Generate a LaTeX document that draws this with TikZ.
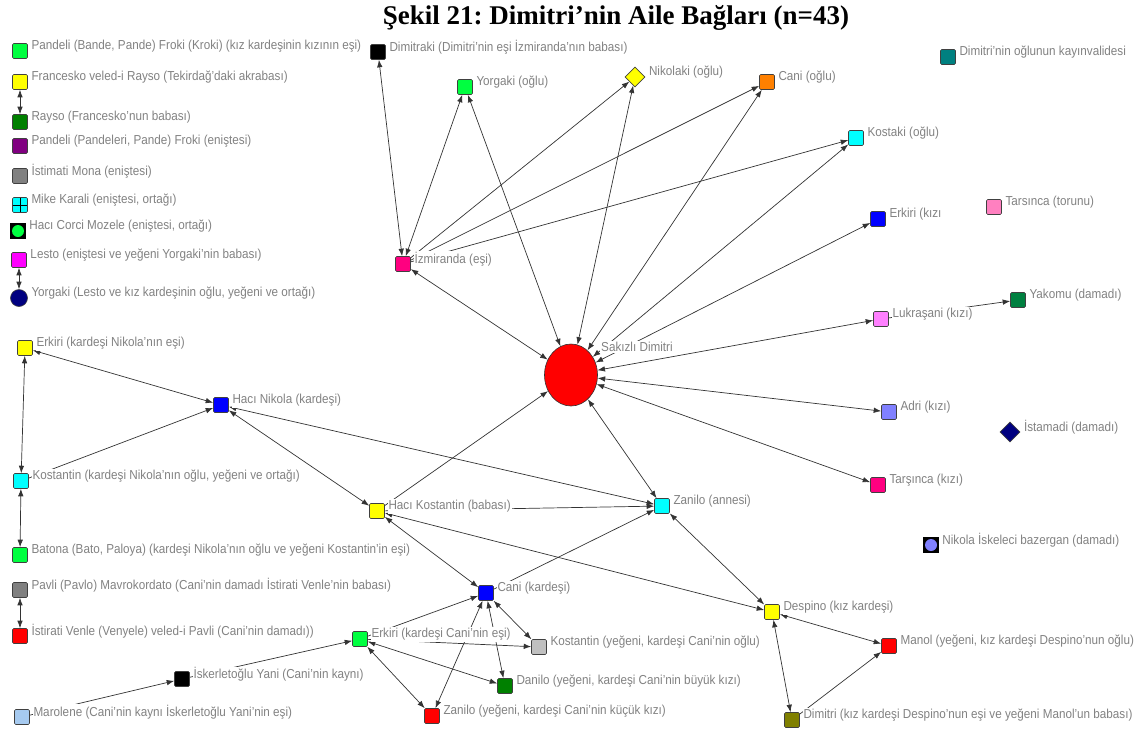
\documentclass[tikz,border=0pt]{standalone}
\usepackage{fontspec}
\setmainfont{Liberation Sans}[FakeStretch=0.9]
\newfontfamily\titlefont{Liberation Serif}
\usetikzlibrary{arrows.meta,shapes.geometric}
\pgfdeclarelayer{bg}
\pgfsetlayers{bg,main}
\frenchspacing
\definecolor{labgray}{RGB}{130,130,130}
\definecolor{cLime}{RGB}{0,255,64}
\definecolor{cYel}{RGB}{255,255,0}
\definecolor{cDGreen}{RGB}{0,128,0}
\definecolor{cPurple}{RGB}{128,0,128}
\definecolor{cGray}{RGB}{128,128,128}
\definecolor{cCyan}{RGB}{0,255,255}
\definecolor{cMag}{RGB}{255,0,255}
\definecolor{cNavy}{RGB}{0,0,128}
\definecolor{cOrange}{RGB}{255,128,0}
\definecolor{cTeal}{RGB}{0,128,128}
\definecolor{cPinkT}{RGB}{255,128,192}
\definecolor{cBlue}{RGB}{0,0,255}
\definecolor{cRose}{RGB}{255,0,128}
\definecolor{cLPink}{RGB}{255,128,255}
\definecolor{cSGreen}{RGB}{0,128,64}
\definecolor{cLBlue}{RGB}{128,128,255}
\definecolor{cLGray}{RGB}{192,192,192}
\definecolor{cMLBlue}{RGB}{166,202,240}
\definecolor{cOlive}{RGB}{128,128,0}
\definecolor{cRed}{RGB}{255,0,0}
\tikzset{
  sq/.style={rectangle, draw=black!75, rounded corners=1.2pt, minimum size=15pt, inner sep=0pt, line width=0.6pt, fill=#1},
  sq/.default=white,
  dia/.style={diamond, draw=black!75, fill=#1, minimum size=20pt, inner sep=0pt, line width=0.6pt},
  dia/.default=white,
  circ/.style={circle, draw=black!75, fill=#1, minimum size=17pt, inner sep=0pt, line width=0.6pt},
  circ/.default=white,
  hc/.style={rectangle, draw=black, fill=black, minimum size=15pt, inner sep=0pt,
    path picture={\fill[#1] (path picture bounding box.center) circle (6pt);}},
  hc/.default=white,
  mk/.style={sq=cCyan, path picture={\draw[black, line width=0.7pt]
    (path picture bounding box.north) -- (path picture bounding box.south)
    (path picture bounding box.west) -- (path picture bounding box.east);}},
  lbl/.style={anchor=west, text=labgray, fill=white, inner sep=1pt, font=\fontsize{13}{15}\selectfont},
  ln/.style={line width=0.7pt, draw=black!80},
  bi/.style={ln, {Latex[length=7.5pt,width=5.5pt]}-{Latex[length=7.5pt,width=5.5pt]}},
  di/.style={ln, -{Latex[length=7.5pt,width=5.5pt]}},
}
\newcommand\pnode[5]{\node[#4] (#1) at (#2,#3) {};
  \node[lbl] (#1l) at ([xshift=2.5pt,yshift=4.5pt]#1.east) {#5};}
\begin{document}
\begin{tikzpicture}[x=1pt,y=-1pt]
\useasboundingbox (0,0) rectangle (1141,729);
\node[font=\titlefont\bfseries\fontsize{27}{30}\selectfont, text=black] (title) at (616,18) {Şekil 21: Dimitri’nin Aile Bağları (n=43)};
% left legend column
\pnode{pbf}{20}{51}{sq=cLime}{Pandeli (Bande, Pande) Froki (Kroki) (kız kardeşinin kızının eşi)}
\pnode{fra}{20}{82}{sq=cYel}{Francesko veled-i Rayso (Tekirdağ’daki akrabası)}
\pnode{ray}{20}{122}{sq=cDGreen}{Rayso (Francesko'nun babası)}
\pnode{ppf}{20}{146}{sq=cPurple}{Pandeli (Pandeleri, Pande) Froki (eniştesi)}
\pnode{ism}{20}{176}{sq=cGray}{İstimati Mona (eniştesi)}
\pnode{mik}{20}{205}{mk}{Mike Karali (eniştesi, ortağı)}
\pnode{hcm}{18}{231}{hc=cLime}{Hacı Corci Mozele (eniştesi, ortağı)}
\pnode{les}{19}{260}{sq=cMag}{Lesto (eniştesi ve yeğeni Yorgaki’nin babası)}
\pnode{yol}{19}{298}{circ=cNavy}{Yorgaki (Lesto ve kız kardeşinin oğlu, yeğeni ve ortağı)}
% top / right
\pnode{dmk}{378}{52}{sq=black}{Dimitraki (Dimitri’nin eşi İzmiranda’nın babası)}
\pnode{yor}{465}{87}{sq=cLime}{Yorgaki (oğlu)}
\pnode{nik}{635}{77}{dia=cYel}{Nikolaki (oğlu)}
\pnode{cao}{767}{82}{sq=cOrange}{Cani (oğlu)}
\pnode{kay}{948}{57}{sq=cTeal}{Dimitri'nin oğlunun kayınvalidesi}
\pnode{kos}{856}{138}{sq=cCyan}{Kostaki (oğlu)}
\pnode{tto}{994}{207}{sq=cPinkT}{Tarsınca (torunu)}
\pnode{erk}{878}{219}{sq=cBlue}{Erkiri (kızı}
\pnode{izm}{403}{264}{sq=cRose}{İzmiranda (eşi)}
\node[ellipse, draw=black!80, fill=cRed, minimum width=53pt, minimum height=62pt, inner sep=0pt, line width=0.6pt] (dim) at (571,375) {};
\node[lbl] (diml) at (600,347) {Sakızlı Dimitri};
\pnode{luk}{881}{319}{sq=cLPink}{Lukraşani (kızı)}
\pnode{yak}{1018}{300}{sq=cSGreen}{Yakomu (damadı)}
\pnode{adr}{889}{412}{sq=cLBlue}{Adri (kızı)}
\pnode{ist}{1010}{432}{dia=cNavy}{İstamadi (damadı)}
\pnode{tar}{878}{485}{sq=cRose}{Tarşınca (kızı)}
\pnode{nib}{931}{545}{hc=cLBlue}{Nikola İskeleci bazergan (damadı)}
% left middle
\pnode{erN}{25}{348}{sq=cYel}{Erkiri (kardeşi Nikola’nın eşi)}
\pnode{hnk}{221}{405}{sq=cBlue}{Hacı Nikola (kardeşi)}
\pnode{ksN}{21}{481}{sq=cCyan}{Kostantin (kardeşi Nikola’nın oğlu, yeğeni ve ortağı)}
\pnode{bat}{20}{555}{sq=cLime}{Batona (Bato, Paloya) (kardeşi Nikola’nın oğlu ve yeğeni Kostantin’in eşi)}
\pnode{pav}{20}{590}{sq=cGray}{Pavli (Pavlo) Mavrokordato (Cani’nin damadı İstirati Venle’nin babası)}
\pnode{isv}{20}{636}{sq=cRed}{İstirati Venle (Venyele) veled-i Pavli (Cani’nin damadı))}
% lower
\pnode{hks}{377}{511}{sq=cYel}{Hacı Kostantin (babası)}
\pnode{zna}{662}{506}{sq=cCyan}{Zanilo (annesi)}
\pnode{cak}{486}{593}{sq=cBlue}{Cani (kardeşi)}
\pnode{des}{772}{612}{sq=cYel}{Despino (kız kardeşi)}
\pnode{erC}{360}{639}{sq=cLime}{Erkiri (kardeşi Cani’nin eşi)}
\pnode{ksY}{539}{647}{sq=cLGray}{Kostantin (yeğeni, kardeşi Cani’nin oğlu)}
\pnode{man}{889}{646}{sq=cRed}{Manol (yeğeni, kız kardeşi Despino’nun oğlu)}
\pnode{isk}{182}{679}{sq=black}{İskerletoğlu Yani (Cani’nin kaynı)}
\pnode{dan}{505}{686}{sq=cDGreen}{Danilo (yeğeni, kardeşi Cani’nin büyük kızı)}
\pnode{zny}{432}{716}{sq=cRed}{Zanilo (yeğeni, kardeşi Cani’nin küçük kızı)}
\pnode{mar}{22}{717}{sq=cMLBlue}{Marolene (Cani’nin kaynı İskerletoğlu Yani’nin eşi)}
\pnode{dmo}{792}{720}{sq=cOlive}{Dimitri (kız kardeşi Despino’nun eşi ve yeğeni Manol’un babası)}
\begin{pgfonlayer}{bg}
% bidirectional
\draw[bi] (fra) -- (ray);
\draw[bi] (les) -- (yol);
\draw[bi] (dmk) -- (izm);
\draw[bi] (izm) -- (yor);
\draw[bi] (yor) -- (dim);
\draw[bi] (izm) -- (dim);
\draw[bi] (nik) -- (dim);
\draw[bi] (cao) -- (dim);
\draw[bi] (kos) -- (dim);
\draw[bi] (erk) -- (dim);
\draw[bi] (luk) -- (dim);
\draw[bi] (adr) -- (dim);
\draw[bi] (tar) -- (dim);
\draw[bi] (zna) -- (dim);
\draw[bi] (erN) -- (hnk);
\draw[bi] (erN) -- (ksN);
\draw[bi] (ksN) -- (bat);
\draw[bi] (pav) -- (isv);
\draw[bi] (hnk) -- (zna);
\draw[bi] (hnk) -- (hks);
\draw[bi] (zna) -- (des);
\draw[bi] (hks) -- (cak);
\draw[bi] (hks) -- (des);
\draw[bi] (des) -- (man);
\draw[bi] (des) -- (dmo);
\draw[bi] (erC) -- (dan);
\draw[bi] (erC) -- (zny);
\draw[bi] (cak) -- (zny);
\draw[bi] (cak) -- (dan);
\draw[bi] (cak) -- (ksY);
% directed
\draw[di] (izm) -- (nik);
\draw[di] (izm) -- (cao);
\draw[di] (izm) -- (kos);
\draw[di] (ksN) -- (hnk);
\draw[di] (hks) -- (dim);
\draw[di] (hks) -- (zna);
\draw[di] (cak) -- (zna);
\draw[di] (dmo) -- (man);
\draw[di] (erC) -- (cak);
\draw[di] (erC) -- (ksY);
\draw[di] (isk) -- (erC);
\draw[di] (mar) -- (isk);
\draw[di] (luk) -- (yak);
\end{pgfonlayer}
\end{tikzpicture}
\end{document}
